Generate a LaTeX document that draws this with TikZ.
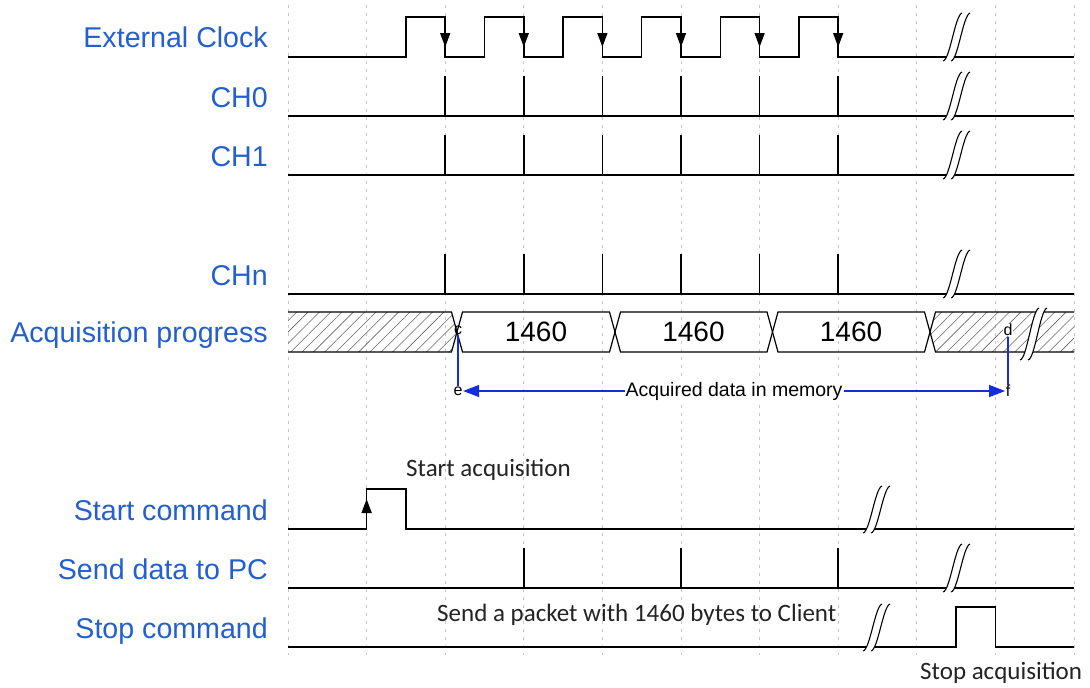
\documentclass[tikz,border=0pt]{standalone}
\usepackage{fontspec}
\setmainfont{Liberation Sans}
\newfontfamily\calfont{Carlito}
\usetikzlibrary{arrows.meta,patterns.meta}
\definecolor{lblblue}{RGB}{35,95,205}
\definecolor{arrblue}{RGB}{20,45,225}
\definecolor{gridgray}{RGB}{200,200,200}
\definecolor{anntext}{RGB}{35,35,35}
\definecolor{hatchgray}{RGB}{100,100,100}
\newcommand\brkmark[3]{%
  \begin{scope}[shift={(#1,#2)}]
    \fill[white] (-13,4) .. controls (-6,3) and (-1,{-#3+2}) .. (6,-#3) -- (14,-#3) .. controls (7,{-#3+2}) and (2,3) .. (-5,4) -- cycle;
    \draw[brkline] (-13,4) .. controls (-6,3) and (-1,{-#3+2}) .. (6,-#3);
    \draw[brkline] (-5,4) .. controls (2,3) and (7,{-#3+2}) .. (14,-#3);
  \end{scope}}
\begin{document}
\begin{tikzpicture}[x=1pt,y=-1pt,
  sig/.style={line width=1.5pt,black,line join=miter},
  gridline/.style={gridgray,line width=0.9pt,dash pattern=on 3pt off 5pt},
  brkline/.style={line width=1.1pt,black},
  lbl/.style={text=lblblue,font=\fontsize{28.6}{30}\selectfont,inner sep=0pt,anchor=base east},
  ann/.style={text=anntext,font=\calfont\fontsize{25}{27}\selectfont,inner sep=0pt,anchor=base west},
  tiny/.style={font=\fontsize{16}{17}\selectfont,inner sep=0.5pt},
  bus/.style={line width=1.2pt,black},
  hatch/.style={pattern={Lines[angle=45,distance=8pt,line width=0.6pt]},pattern color=hatchgray},
  dnarrow/.style={-{Triangle[length=14pt,width=10pt]},line width=1.5pt},
  blu/.style={arrblue,line width=1.3pt},
  bluarrow/.style={arrblue,line width=1.3pt,{Triangle[length=16pt,width=12pt]}-{Triangle[length=16pt,width=12pt]}}
]
\useasboundingbox (0,0) rectangle (1090,688);
\fill[white] (0,0) rectangle (1090,688);

% grid
\foreach \k in {0,...,10} \draw[gridline] ({288+78.6*\k},5) -- ({288+78.6*\k},655);

% labels
\node[lbl] (lclk) at (268,47) {External Clock};
\node[lbl] (lch0) at (268,107) {CH0};
\node[lbl] (lch1) at (268,166) {CH1};
\node[lbl] (lchn) at (268,285) {CHn};
\node[lbl] (lacq) at (268,342) {Acquisition progress};
\node[lbl] (lstart) at (268,520) {Start command};
\node[lbl] (lsend) at (268,579) {Send data to PC};
\node[lbl] (lstop) at (268,638) {Stop command};

% external clock
\draw[sig] (288,57) -- (405.9,57) -- (405.9,17) -- (445.2,17) -- (445.2,57)
  -- (484.5,57) -- (484.5,17) -- (523.8,17) -- (523.8,57)
  -- (563.1,57) -- (563.1,17) -- (602.4,17) -- (602.4,57)
  -- (641.7,57) -- (641.7,17) -- (681,17) -- (681,57)
  -- (720.3,57) -- (720.3,17) -- (759.6,17) -- (759.6,57)
  -- (798.9,57) -- (798.9,17) -- (838.2,17) -- (838.2,57) -- (1074,57);
\foreach \x in {445.2,523.8,602.4,681,759.6,838.2} \draw[dnarrow] (\x,17) -- (\x,47);

% channels
\foreach \b in {116,175,294} {
  \draw[sig] (288,\b) -- (1074,\b);
  \foreach \x in {445.2,523.8,602.4,681,759.6,838.2} \draw[sig] (\x,\b) -- (\x,\b-40);
}
\brkmark{956}{57}{44}
\brkmark{956}{116}{44}
\brkmark{956}{175}{44}
\brkmark{956}{294}{44}

% acquisition progress bus
\fill[hatch] (288,312) -- (451.5,312) -- (457,332) -- (451.5,352) -- (288,352) -- cycle;
\draw[bus] (288,312) -- (451.5,312) -- (457,332) -- (451.5,352) -- (288,352);
\foreach \a/\b in {457/615,615/772.5,772.5/930} {
  \draw[bus] (\a,332) -- (\a+5.5,312) -- (\b-5.5,312) -- (\b,332) -- (\b-5.5,352) -- (\a+5.5,352) -- cycle;
}
\node[font=\fontsize{28}{30}\selectfont] (v1) at (536,332) {1460};
\node[font=\fontsize{28}{30}\selectfont] (v2) at (693.5,332) {1460};
\node[font=\fontsize{28}{30}\selectfont] (v3) at (851,332) {1460};
\fill[hatch] (930,332) -- (935.5,312) -- (1074,312) -- (1074,352) -- (935.5,352) -- cycle;
\draw[bus] (1074,312) -- (935.5,312) -- (930,332) -- (935.5,352) -- (1074,352);
\brkmark{1033}{356}{48}

% markers and memory arrow
\node[tiny] (c) at (458,330) {c};
\node[tiny,fill=white] (d) at (1008,330) {d};
\node[tiny] (e) at (458,391) {e};
\node[tiny] (f) at (1008,391) {f};
\draw[blu] (c) -- (e);
\draw[blu] (d) -- (f);
\draw[bluarrow] (e) -- node[fill=white,inner sep=1pt,text=black,font=\fontsize{19.5}{21}\selectfont] (mem) {Acquired data in memory} (f);

% start command
\draw[sig] (288,529) -- (366.6,529) -- (366.6,489) -- (405.9,489) -- (405.9,529) -- (1074,529);
\draw[-{Triangle[length=14pt,width=10pt]},line width=1.5pt] (366.6,529) -- (366.6,499);
\brkmark{876}{529}{43}
\node[ann] (sa) at (406,476) {Start acquisition};

% send data
\draw[sig] (288,588) -- (1074,588);
\foreach \x in {523.8,681,838.2} \draw[sig] (\x,588) -- (\x,548);
\brkmark{956}{588}{44}
\node[ann] (sp) at (437,621) {Send a packet with 1460 bytes to Client};

% stop command
\draw[sig] (288,647) -- (956.1,647) -- (956.1,607) -- (995.4,607) -- (995.4,647) -- (1074,647);
\brkmark{876}{647}{43}
\node[ann] (so) at (920,679) {Stop acquisition};
\end{tikzpicture}
\end{document}
